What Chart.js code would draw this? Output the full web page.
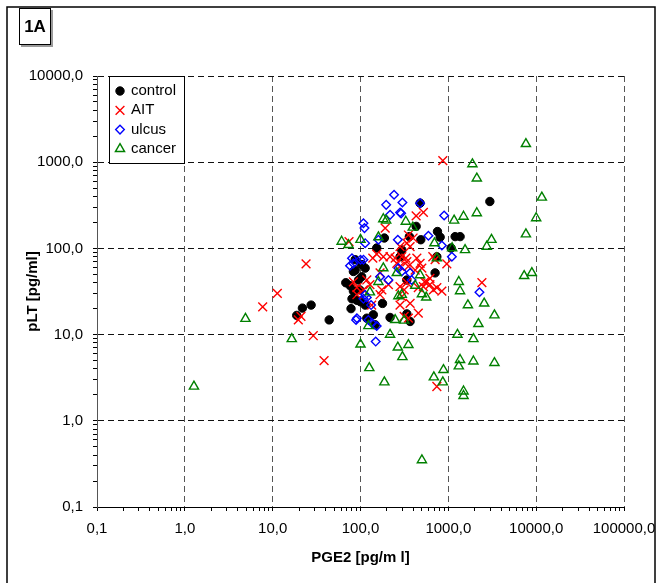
<!DOCTYPE html>
<html><head><meta charset="utf-8">
<script src="https://cdn.jsdelivr.net/npm/chart.js@4/dist/chart.umd.min.js"></script>
<style>html,body{margin:0;padding:0;background:#fff}canvas{display:block}</style>
</head><body>
<canvas id="c" width="658" height="583"></canvas>
<script>
// ---- tick labels ----
const xTickValues = [0.1, 1, 10, 100, 1000, 10000, 100000];
const xTickLabels = ['0,1', '1,0', '10,0', '100,0', '1000,0', '10000,0', '100000,0'];
const yTickValues = [0.1, 1, 10, 100, 1000, 10000];
const yTickLabels = ['0,1', '1,0', '10,0', '100,0', '1000,0', '10000,0'];
const seriesNames = ['control', 'AIT', 'ulcus', 'cancer'];
const xTitle = 'PGE2 [pg/m l]';
const yTitle = 'pLT [pg/ml]';
const panelLabel = '1A';

// ---- series values (PGE2 x, pLT y) ----
const controlX = [18.8, 21.8, 27.4, 44, 76, 78, 91, 83, 87, 103, 113, 140, 178, 217, 337, 367, 147, 707, 740, 2970, 477, 430, 752, 807, 1195, 1362, 360, 486, 187, 1076, 153, 295, 87, 103, 113, 83, 95, 80, 100, 118, 282, 337, 68, 98];
const controlY = [16.7, 20.3, 22, 14.8, 37, 20, 25, 32, 56, 47, 22, 17, 23, 15.8, 17.4, 14.2, 13, 52, 80, 350, 335, 180, 157, 135, 137, 137, 137, 126, 132, 101, 101, 96, 74, 65, 59, 54, 43, 26, 24, 15.5, 80, 43, 40, 33];

const aitX = [24, 11.3, 7.7, 19.6, 21, 29, 38.5, 83, 91, 74, 865, 520, 430, 191, 666, 961, 367, 138, 153, 182, 217, 248, 259, 282, 337, 167, 118, 128, 91, 108, 175, 208, 282, 314, 295, 167, 134, 367, 328, 351, 438, 477, 419, 499, 707, 337, 351, 397, 282, 295, 568, 617, 740, 844, 455, 520, 337, 282, 455, 314, 2410, 740, 351, 537, 617, 676];
const aitY = [66, 30, 21, 14.8, 16.3, 9.7, 5, 41, 35, 120, 1040, 261, 239, 172, 80, 66, 105, 77, 86, 80, 80, 77, 67, 62, 70, 52, 43, 38, 29, 33, 33, 38, 36, 33, 27.6, 29, 22, 23, 77, 62, 77, 67, 56, 59, 74, 115, 143, 132, 105, 80, 41, 38, 35, 32, 35, 36, 40, 22, 17.7, 16.3, 40, 2.5, 15.5, 41, 45, 33];

const ulcusX = [241, 196, 300, 217, 282, 290, 108, 111, 266, 160, 113, 80, 83, 100, 108, 76, 208, 270, 295, 113, 118, 132, 91, 123, 135, 153, 89, 149, 108, 367, 382, 2260, 1097, 477, 896, 593, 844, 167];
const ulcusY = [419, 320, 341, 245, 261, 255, 196, 172, 126, 126, 115, 77, 67, 74, 74, 63, 43, 59, 54, 29, 27, 22, 15.5, 14.8, 13.6, 12.6, 14.8, 8.3, 26, 52, 43, 31, 80, 335, 241, 140, 108, 47];

const cancerX = [1.27, 4.9, 16.5, 100, 126, 187, 217, 266, 300, 351, 500, 684, 880, 865, 1270, 1360, 1316, 1930, 1930, 3350, 1490, 1490, 2200, 3350, 2560, 1670, 1360, 1316, 7300, 8930, 123, 248, 314, 270, 295, 128, 500, 560, 420, 160, 259, 477, 182, 740, 1550, 7640, 1880, 2110, 11600, 10000, 7640, 3100, 2740, 2110, 1490, 1164, 1105, 695, 394, 328, 182, 196, 160, 100, 61, 73];
const cancerY = [2.5, 15.3, 8.9, 7.7, 4.1, 2.8, 10, 7.1, 5.5, 7.6, 0.35, 3.2, 3.9, 2.8, 10, 5.1, 4.3, 8.9, 4.9, 4.7, 2.2, 1.95, 13.3, 16.8, 23, 22, 32, 41, 48, 52, 12.6, 14.8, 14.6, 28, 29, 31, 29.5, 27, 37, 41, 52, 49, 59, 77, 96, 1630, 950, 650, 390, 225, 146, 126, 105, 257, 234, 211, 101, 115, 175, 205, 219, 211, 135, 126, 120, 110];

const toPts = (xs, ys) => xs.map((x, i) => ({x: x, y: ys[i]}));

const styles = [
  {pointStyle: 'circle', radius: 4.2, borderColor: '#000000', backgroundColor: '#000000', borderWidth: 1},
  {pointStyle: 'crossRot', radius: 6.2, borderColor: '#ff0000', backgroundColor: 'rgba(0,0,0,0)', borderWidth: 1.4},
  {pointStyle: 'rectRot', radius: 4.3, borderColor: '#0000ff', backgroundColor: 'rgba(0,0,0,0)', borderWidth: 1.4},
  {pointStyle: 'triangle', radius: 5.3, borderColor: '#008000', backgroundColor: 'rgba(0,0,0,0)', borderWidth: 1.4}
];
const seriesData = [toPts(controlX, controlY), toPts(aitX, aitY), toPts(ulcusX, ulcusY), toPts(cancerX, cancerY)];

const datasets = seriesNames.map((name, i) => ({
  label: name,
  data: seriesData[i],
  pointStyle: styles[i].pointStyle,
  pointRadius: styles[i].radius,
  pointBorderColor: styles[i].borderColor,
  pointBackgroundColor: styles[i].backgroundColor,
  pointBorderWidth: styles[i].borderWidth,
  showLine: false,
  order: 4 - i
}));

function buildLogTicks(majors) {
  const t = [];
  for (let i = 0; i < majors.length; i++) {
    t.push({value: majors[i], major: true});
    if (i < majors.length - 1) {
      for (let m = 2; m <= 9; m++) t.push({value: +(majors[i] * m).toPrecision(6), major: false});
    }
  }
  return t;
}

const FONT = "'Liberation Sans', Arial, sans-serif";

function drawMarker(ctx, st, x, y) {
  ctx.save();
  ctx.strokeStyle = st.borderColor;
  ctx.fillStyle = st.backgroundColor;
  ctx.lineWidth = st.borderWidth;
  if (Chart.helpers && Chart.helpers.drawPoint) {
    Chart.helpers.drawPoint(ctx, {pointStyle: st.pointStyle, radius: st.radius, rotation: 0, borderWidth: st.borderWidth}, x, y);
  }
  ctx.restore();
}

const framePlugin = {
  id: 'frame',
  beforeDraw(chart) {
    const ctx = chart.ctx;
    ctx.save();
    ctx.fillStyle = '#fff';
    ctx.fillRect(0, 0, chart.width, chart.height);
    ctx.strokeStyle = '#000';
    ctx.lineWidth = 1.5;
    ctx.strokeRect(7, 7, 648, 600);
    // panel label box
    ctx.fillStyle = '#9a9a9a';
    ctx.fillRect(21, 10, 32, 37);
    ctx.fillStyle = '#fff';
    ctx.fillRect(19, 8, 32, 37);
    ctx.lineWidth = 1;
    ctx.strokeRect(19.5, 8.5, 31, 36);
    ctx.fillStyle = '#000';
    ctx.font = 'bold 17px ' + FONT;
    ctx.textAlign = 'center';
    ctx.textBaseline = 'middle';
    ctx.fillText(panelLabel, 35, 27);
    ctx.restore();
  }
};

const legendPlugin = {
  id: 'boxLegend',
  afterDatasetsDraw(chart) {
    const ctx = chart.ctx;
    const x0 = 109.5, y0 = 76.5, w = 75, h = 87;
    ctx.save();
    ctx.fillStyle = '#fff';
    ctx.fillRect(x0, y0, w, h);
    ctx.strokeStyle = '#000';
    ctx.lineWidth = 1;
    ctx.strokeRect(x0, y0, w, h);
    ctx.font = '15px ' + FONT;
    ctx.textAlign = 'left';
    ctx.textBaseline = 'middle';
    seriesNames.forEach((name, i) => {
      const yy = 91 + i * 19.3;
      drawMarker(ctx, styles[i], 120, yy);
      ctx.fillStyle = '#000';
      ctx.fillText(name, 131, yy);
    });
    ctx.restore();
  }
};

const tickFont = {family: FONT, size: 15};
const titleFont = {family: FONT, size: 15, weight: 'bold'};

new Chart(document.getElementById('c'), {
  type: 'scatter',
  data: {datasets: datasets},
  plugins: [framePlugin, legendPlugin],
  options: {
    responsive: false,
    animation: false,
    events: [],
    layout: {padding: {left: 10, right: 34, top: 76, bottom: 12}},
    plugins: {legend: {display: false}, tooltip: {enabled: false}},
    scales: {
      x: {
        type: 'logarithmic',
        min: 0.1, max: 100000,
        afterBuildTicks: (s) => { s.ticks = buildLogTicks(xTickValues); },
        afterFit: (s) => { s.height = 64; s.paddingRight = 10; s.paddingLeft = 10; },
        ticks: {
          autoSkip: false, maxRotation: 0, minRotation: 0, padding: 9, color: '#000', font: tickFont,
          callback: function(v, i, ticks) {
            const k = xTickValues.indexOf(ticks[i].value);
            return k >= 0 ? xTickLabels[k] : '';
          }
        },
        grid: {
          color: (c) => (c.tick && c.tick.major) ? '#555' : 'rgba(0,0,0,0)',
          lineWidth: 1, tickLength: 4, tickColor: '#000', tickWidth: 1
        },
        border: {display: true, color: '#000', width: 1, dash: [6, 4]},
        title: {display: true, text: xTitle, color: '#000', font: titleFont, padding: {top: 11, bottom: 4}}
      },
      y: {
        type: 'logarithmic',
        min: 0.1, max: 10000,
        afterBuildTicks: (s) => { s.ticks = buildLogTicks(yTickValues); },
        afterFit: (s) => { s.width = 87; s.paddingTop = 10; s.paddingBottom = 10; },
        ticks: {
          autoSkip: false, padding: 10, color: '#000', font: tickFont,
          callback: function(v, i, ticks) {
            const k = yTickValues.indexOf(ticks[i].value);
            return k >= 0 ? yTickLabels[k] : '';
          }
        },
        grid: {
          color: (c) => (c.tick && c.tick.major) ? '#111' : 'rgba(0,0,0,0)',
          lineWidth: 1, tickLength: 4, tickColor: '#000', tickWidth: 1
        },
        border: {display: true, color: '#555', width: 1, dash: [6, 4]},
        title: {display: true, text: yTitle, color: '#000', font: titleFont, padding: {top: 14, bottom: 0}}
      }
    }
  }
});
</script>
</body></html>
